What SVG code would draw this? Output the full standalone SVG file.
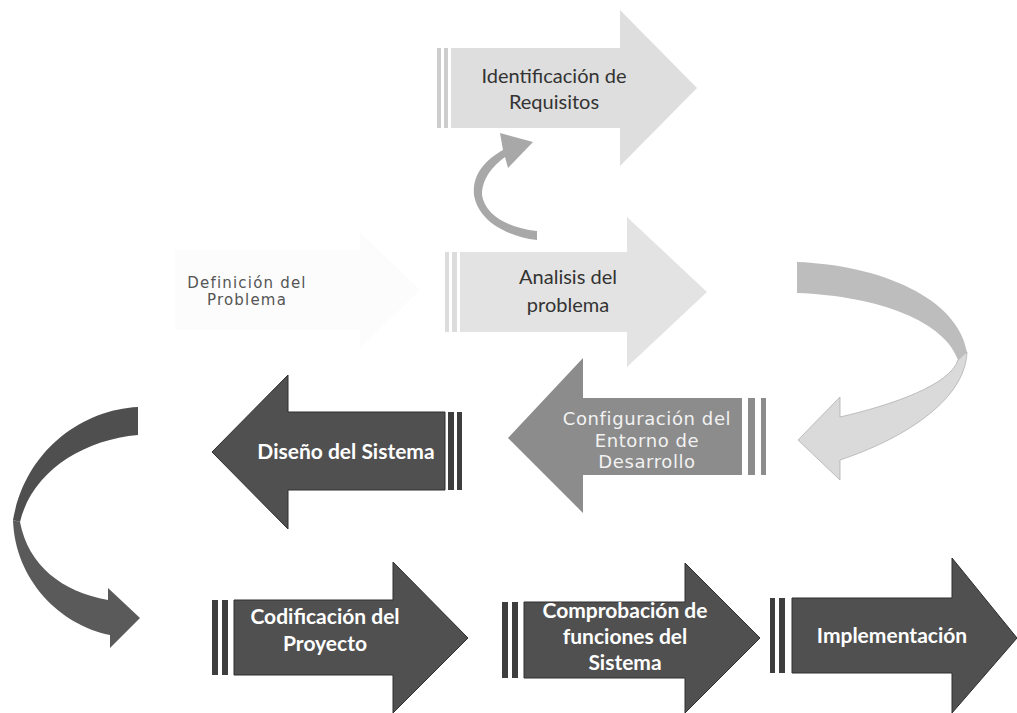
<svg xmlns="http://www.w3.org/2000/svg" width="1017" height="713" viewBox="0 0 1017 713">
<style>
.light{fill:#dedede;}
.lightbar{fill:#cdcdcd;}
.mid{fill:#8c8c8c;}
.dark{fill:#505050;stroke:#2e2e2e;stroke-width:1;}
.darkbar{fill:#3e3e3e;}
.t{font-family:Lato,"Open Sans",sans-serif;text-anchor:middle;}
.tl{fill:#333333;font-size:20px;}
.tw{fill:#ffffff;font-weight:bold;font-size:21px;}
.tg{font-family:"DejaVu Sans",sans-serif;text-anchor:middle;}
</style>
<rect width="1017" height="713" fill="#ffffff"/>

<g id="connectors">
  <path d="M537,240 C505,236 478,220 474,195 C472,175 485,160 503,150 L500,133 L533,142 L508,168 L505,157 C493,166 482,178 482,195 C485,215 508,228 537,231 Z" fill="#a8a8a8"/>
  <path d="M797,262 C880,265 958,298 967,352 L958,360 C945,322 880,296 797,293 Z" fill="#bdbdbd"/>
  <path d="M967,352 C965,402 900,440 840,460 L840,480 L798,440 L840,397 L840,417 C892,405 950,385 958,360 Z" fill="#dadada" stroke="#b0b0b0" stroke-width="0.8"/>
  <path d="M138,407 C80,410 25,452 13,520 L20,522 C32,472 82,440 138,435 Z" fill="#4f4f4f"/>
  <path d="M13,520 C15,580 60,625 110,635 L110,648 L140,618 L108,588 L108,600 C62,592 28,565 20,522 Z" fill="#5a5a5a"/>
</g>

<g id="definicion">
  <path d="M175,250 L360,250 L360,232 L420,290 L360,348 L360,330 L175,330 Z" fill="#fcfcfc"/>
  <text class="tg" font-size="15" letter-spacing="1.2" fill="#555555"><tspan x="247" y="288">Definición del</tspan><tspan x="247" y="305">Problema</tspan></text>
</g>

<g id="identificacion">
  <rect class="lightbar" x="437" y="48" width="4" height="80"/>
  <rect class="lightbar" x="444" y="48" width="4" height="80"/>
  <path class="light" d="M451,48 L620,48 L620,10 L697,88 L620,166 L620,128 L451,128 Z"/>
  <text class="t tl"><tspan x="554" y="83">Identificación de</tspan><tspan x="554" y="109">Requisitos</tspan></text>
</g>

<g id="analisis">
  <rect class="lightbar" x="445" y="252" width="4" height="80" opacity="0.7"/>
  <rect class="lightbar" x="452" y="252" width="5" height="80" opacity="0.7"/>
  <path d="M460,252 L627,252 L627,217 L707,292 L627,367 L627,332 L460,332 Z" fill="#e3e3e3"/>
  <text class="t tl"><tspan x="568" y="284">Analisis del</tspan><tspan x="568" y="312">problema</tspan></text>
</g>

<g id="configuracion">
  <rect class="mid" x="748" y="398" width="7" height="77"/>
  <rect class="mid" x="761" y="398" width="5" height="77"/>
  <path class="mid" d="M742,398 L583,398 L583,358 L508,438 L583,513 L583,475 L742,475 Z"/>
  <text class="tg" font-size="18" letter-spacing="0.6" fill="#f2f2f2"><tspan x="647" y="425">Configuración del</tspan><tspan x="647" y="447">Entorno de</tspan><tspan x="647" y="468">Desarrollo</tspan></text>
</g>

<g id="diseno">
  <rect class="darkbar" x="448" y="412" width="6" height="78"/>
  <rect class="darkbar" x="457" y="412" width="5" height="78"/>
  <path class="dark" d="M445,412 L288,412 L288,375 L212,452 L288,529 L288,490 L445,490 Z"/>
  <text class="t tw" x="346" y="459">Diseño del Sistema</text>
</g>

<g id="codificacion">
  <rect class="darkbar" x="212" y="600" width="6" height="75"/>
  <rect class="darkbar" x="222" y="600" width="6" height="75"/>
  <path class="dark" d="M234,600 L393,600 L393,562 L468,638 L393,713 L393,675 L234,675 Z"/>
  <text class="t tw"><tspan x="325" y="624">Codificación del</tspan><tspan x="325" y="651">Proyecto</tspan></text>
</g>

<g id="comprobacion">
  <rect class="darkbar" x="502" y="602" width="6" height="76"/>
  <rect class="darkbar" x="512" y="602" width="6" height="76"/>
  <path class="dark" d="M524,602 L685,602 L685,563 L760,638 L685,713 L685,678 L524,678 Z"/>
  <text class="t tw"><tspan x="625" y="618">Comprobación de</tspan><tspan x="625" y="644">funciones del</tspan><tspan x="625" y="670">Sistema</tspan></text>
</g>

<g id="implementacion">
  <rect class="darkbar" x="770" y="598" width="5" height="75"/>
  <rect class="darkbar" x="779" y="598" width="6" height="75"/>
  <path class="dark" d="M792,598 L952,598 L952,558 L1017,638 L952,713 L952,673 L792,673 Z"/>
  <text class="t tw" x="892" y="643">Implementación</text>
</g>
</svg>
